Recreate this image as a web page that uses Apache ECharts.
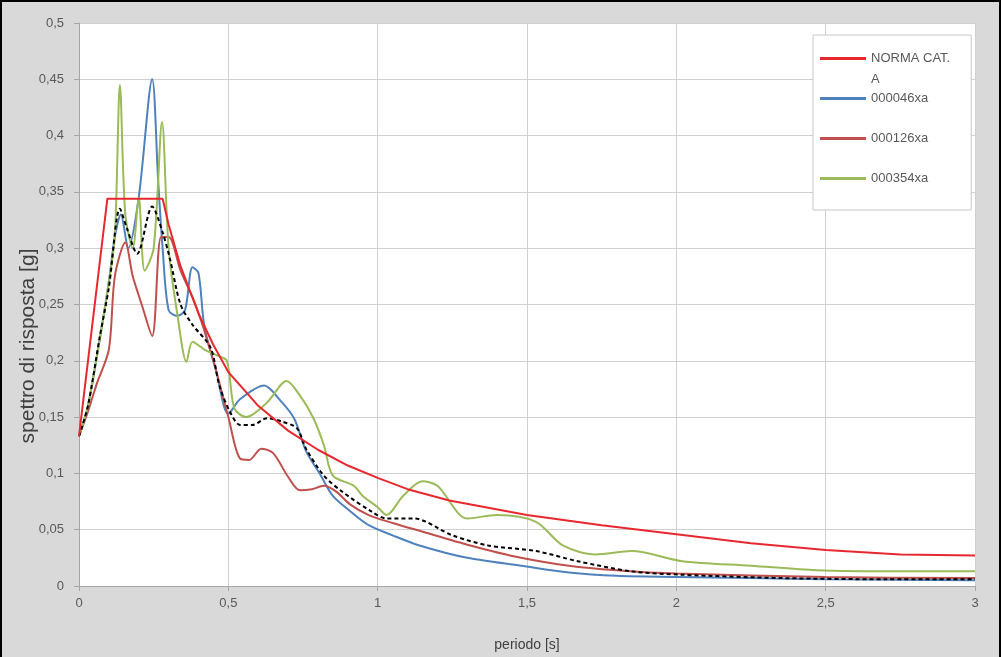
<!DOCTYPE html>
<html>
<head>
<meta charset="utf-8">
<script src="https://cdn.jsdelivr.net/npm/echarts@6/dist/echarts.min.js"></script>
<style>
  html, body { margin: 0; padding: 0; background: #d9d9d9; }
  #chart { width: 1001px; height: 657px; box-sizing: border-box; border: 2px solid #000; border-bottom: none; }
</style>
</head>
<body>
<div id="chart"></div>
<script>
// ---- data ----
const xTicks = [0, 0.5, 1, 1.5, 2, 2.5, 3];
const yTicks = [0, 0.05, 0.1, 0.15, 0.2, 0.25, 0.3, 0.35, 0.4, 0.45, 0.5];

const legendNames = ['NORMA CAT. A', '000046xa', '000126xa', '000354xa'];

const normaT = [0, 0.095, 0.28, 0.3, 0.34, 0.4, 0.45, 0.5, 0.55, 0.6, 0.7, 0.8, 0.9, 1.0, 1.1, 1.24, 1.5, 1.75, 2.0, 2.25, 2.5, 2.75, 3.0];
const normaV = [0.133, 0.344, 0.344, 0.321, 0.284, 0.242, 0.214, 0.19, 0.175, 0.16, 0.138, 0.121, 0.107, 0.096, 0.086, 0.076, 0.063, 0.054, 0.046, 0.038, 0.032, 0.028, 0.027];

const s046T = [0, 0.03, 0.07, 0.1, 0.12, 0.14, 0.165, 0.2, 0.245, 0.265, 0.28, 0.3, 0.33, 0.355, 0.38, 0.4, 0.42, 0.46, 0.5, 0.54, 0.62, 0.67, 0.72, 0.76, 0.81, 0.85, 0.91, 0.97, 1.05, 1.14, 1.3, 1.48, 1.64, 1.8, 2.0, 2.25, 2.5, 2.75, 3.0];
const s046V = [0.133, 0.16, 0.22, 0.27, 0.31, 0.33, 0.3, 0.345, 0.45, 0.36, 0.3, 0.245, 0.24, 0.245, 0.283, 0.278, 0.23, 0.19, 0.153, 0.166, 0.178, 0.166, 0.149, 0.12, 0.098, 0.08, 0.066, 0.054, 0.045, 0.036, 0.025, 0.018, 0.012, 0.009, 0.008, 0.007, 0.006, 0.0055, 0.005];

const s126T = [0, 0.03, 0.06, 0.1, 0.12, 0.155, 0.18, 0.21, 0.245, 0.275, 0.3, 0.34, 0.39, 0.45, 0.5, 0.54, 0.57, 0.61, 0.65, 0.7, 0.74, 0.78, 0.82, 0.86, 0.91, 0.97, 1.05, 1.14, 1.31, 1.48, 1.64, 1.8, 2.0, 2.5, 3.0];
const s126V = [0.133, 0.155, 0.18, 0.21, 0.275, 0.305, 0.275, 0.25, 0.222, 0.31, 0.31, 0.28, 0.25, 0.2, 0.15, 0.113, 0.112, 0.122, 0.118, 0.097, 0.085, 0.086, 0.089, 0.084, 0.072, 0.063, 0.056, 0.049, 0.036, 0.025, 0.018, 0.014, 0.011, 0.008, 0.007];

const s354T = [0, 0.03, 0.07, 0.1, 0.12, 0.137, 0.155, 0.18, 0.2, 0.22, 0.25, 0.278, 0.3, 0.33, 0.36, 0.38, 0.42, 0.46, 0.495, 0.52, 0.56, 0.63, 0.695, 0.74, 0.785, 0.82, 0.85, 0.92, 0.95, 1.0, 1.03, 1.085, 1.15, 1.2, 1.3, 1.4, 1.53, 1.62, 1.73, 1.85, 2.02, 2.25, 2.47, 2.75, 3.0];
const s354V = [0.133, 0.16, 0.22, 0.27, 0.31, 0.445, 0.33, 0.3, 0.345, 0.28, 0.3, 0.412, 0.3, 0.24, 0.199, 0.217, 0.21, 0.205, 0.2, 0.158, 0.15, 0.163, 0.182, 0.169, 0.149, 0.125, 0.098, 0.089, 0.08, 0.07, 0.063, 0.08, 0.093, 0.089, 0.06, 0.063, 0.057, 0.036, 0.028, 0.031, 0.022, 0.018, 0.014, 0.013, 0.013];

const meanT = [0, 0.03, 0.07, 0.1, 0.137, 0.16, 0.195, 0.245, 0.28, 0.305, 0.34, 0.38, 0.44, 0.47, 0.505, 0.54, 0.58, 0.63, 0.68, 0.73, 0.76, 0.82, 0.88, 0.98, 1.03, 1.12, 1.25, 1.37, 1.53, 1.67, 1.85, 2.02, 2.36, 2.7, 3.0];
const meanV = [0.133, 0.16, 0.222, 0.265, 0.335, 0.318, 0.295, 0.337, 0.314, 0.29, 0.25, 0.232, 0.212, 0.178, 0.155, 0.143, 0.143, 0.149, 0.146, 0.14, 0.122, 0.098, 0.084, 0.066, 0.06, 0.06, 0.045, 0.036, 0.031, 0.022, 0.013, 0.01, 0.007, 0.006, 0.006];

const colors = { norma: '#e8282f', s046: '#4f81bd', s126: '#c0504d', s354: '#9bbb59', mean: '#000000' };

// ---- build ----
const pairs = (t, v) => t.map((x, i) => [x, v[i]]);
const fmt = v => (Math.round(v * 100) / 100).toString().replace('.', ',');
const FONT = 'Liberation Sans, Arial, sans-serif';

const chart = echarts.init(document.getElementById('chart'), null, { renderer: 'canvas' });
const axisText = { color: '#595959', fontSize: 13, fontFamily: FONT };

chart.setOption({
  backgroundColor: '#d9d9d9',
  animation: false,
  grid: { left: 77, right: 24, top: 21, bottom: 67, show: true, backgroundColor: '#ffffff', borderWidth: 0 },
  xAxis: {
    type: 'value', min: xTicks[0], max: xTicks[xTicks.length - 1], interval: 0.5,
    axisLine: { show: true, onZero: false, lineStyle: { color: '#a6a6a6' } },
    axisTick: { show: true, length: 5, lineStyle: { color: '#a6a6a6' } },
    axisLabel: Object.assign({ margin: 11, formatter: fmt }, axisText),
    splitLine: { show: true, lineStyle: { color: '#d0d0d0', width: 1 } },
    name: 'periodo [s]', nameLocation: 'middle', nameGap: 52,
    nameTextStyle: { color: '#404040', fontSize: 14, fontFamily: FONT }
  },
  yAxis: {
    type: 'value', min: yTicks[0], max: yTicks[yTicks.length - 1], interval: 0.05,
    axisLine: { show: true, onZero: false, lineStyle: { color: '#a6a6a6' } },
    axisTick: { show: true, length: 5, lineStyle: { color: '#a6a6a6' } },
    axisLabel: Object.assign({ margin: 15, formatter: fmt }, axisText),
    splitLine: { show: true, lineStyle: { color: '#d0d0d0', width: 1 } }
  },
  legend: {
    data: legendNames,
    orient: 'vertical',
    left: 811, top: 33,
    backgroundColor: '#ffffff',
    borderColor: '#c8c8c8', borderWidth: 1,
    padding: [17, 21, 25, 7],
    icon: 'rect',
    itemWidth: 46, itemHeight: 3, itemGap: 27,
    textStyle: { color: '#595959', fontSize: 13, fontFamily: FONT },
    formatter: n => n === 'NORMA CAT. A' ? 'NORMA CAT.' : n
  },
  graphic: [
    { type: 'text', left: 869, top: 71, z: 100, style: { text: 'A', fill: '#595959', fontSize: 13, fontFamily: FONT } },
    { type: 'text', x: 26, y: 344, rotation: Math.PI / 2, z: 100,
      style: { text: 'spettro di risposta [g]', fill: '#404040', fontSize: 21, fontFamily: FONT, align: 'center', verticalAlign: 'middle' } }
  ],
  series: [
    { name: 'NORMA CAT. A', type: 'line', data: pairs(normaT, normaV), symbol: 'none', smooth: false, lineStyle: { color: colors.norma, width: 2 }, itemStyle: { color: colors.norma }, z: 5 },
    { name: '000046xa', type: 'line', data: pairs(s046T, s046V), symbol: 'none', smooth: 0.3, lineStyle: { color: colors.s046, width: 2 }, itemStyle: { color: colors.s046 }, z: 3 },
    { name: '000126xa', type: 'line', data: pairs(s126T, s126V), symbol: 'none', smooth: 0.3, lineStyle: { color: colors.s126, width: 2 }, itemStyle: { color: colors.s126 }, z: 3 },
    { name: '000354xa', type: 'line', data: pairs(s354T, s354V), symbol: 'none', smooth: 0.3, lineStyle: { color: colors.s354, width: 2 }, itemStyle: { color: colors.s354 }, z: 3 },
    { name: 'media', type: 'line', data: pairs(meanT, meanV), symbol: 'none', smooth: 0.3, lineStyle: { color: colors.mean, width: 2, type: [4, 3] }, itemStyle: { color: colors.mean }, z: 4 }
  ]
});
</script>
</body>
</html>
